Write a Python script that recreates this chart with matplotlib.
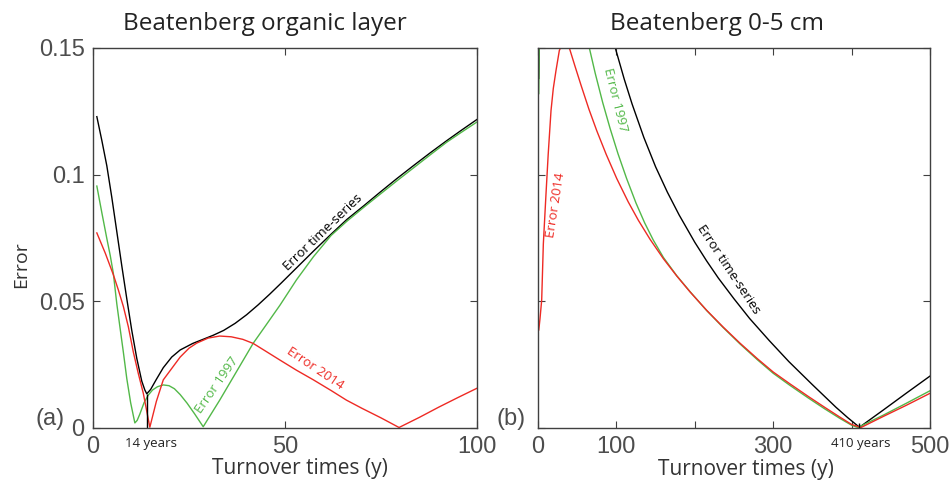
""" Beatenberg error curves vs turnover time, two panels
"""
import matplotlib
matplotlib.use("Agg")
import matplotlib.pyplot as plt

# ---- panel (a): organic layer ----
org_ts_x = [1.0, 2.3, 3.6, 4.9, 6.2, 7.5, 8.8, 10.1, 11.4, 12.7, 13.5, 14.0,
            15.0, 16.5, 18.3, 20.5, 22.7, 26, 29, 31.3, 34, 37, 40, 43, 46,
            49, 53, 57.4, 62, 66.1, 70.5, 74.7, 79, 83.4, 87.8, 92.1, 96, 100]
org_ts_y = [0.1229, 0.1135, 0.1035, 0.0910, 0.0775, 0.0640, 0.0510, 0.0385,
            0.0275, 0.0185, 0.0150, 0.0135, 0.0152, 0.0192, 0.0238, 0.0280,
            0.0308, 0.0334, 0.0352, 0.0366, 0.0385, 0.0413, 0.0447, 0.0486,
            0.0528, 0.0572, 0.0632, 0.0698, 0.0765, 0.0823, 0.0877, 0.0930,
            0.0983, 0.1035, 0.1086, 0.1134, 0.1176, 0.1218]

org_97_x = [1.0, 2.3, 3.6, 4.5, 5.3, 6.2, 7.0, 7.9, 8.8, 9.8, 10.9, 11.5, 12.2,
            13.3, 14.4, 15.5, 16.8, 18.3, 19.8, 21.2, 22.7, 24.5, 26.5, 28.7,
            33, 37, 41.7, 45, 48.7, 53, 57.4, 62, 66.1, 70.5, 74.7, 79, 83.4,
            87.8, 92.1, 96, 100]
org_97_y = [0.0955, 0.0850, 0.0748, 0.0680, 0.0610, 0.0490, 0.0400, 0.0300,
            0.0195, 0.0100, 0.0020, 0.0030, 0.0055, 0.0100, 0.0130, 0.0150,
            0.0163, 0.0170, 0.0167, 0.0155, 0.0132, 0.0098, 0.0055, 0.0005,
            0.0110, 0.0213, 0.0334, 0.0405, 0.0485, 0.0585, 0.0676, 0.0760,
            0.0816, 0.0871, 0.0922, 0.0974, 0.1026, 0.1078, 0.1128, 0.1168,
            0.1208]

org_14_x = [1.0, 3.2, 5.3, 6.6, 7.9, 9.2, 10.5, 11.8, 13.1, 14.8, 16.5, 18.3,
            20.5, 22.7, 25, 27, 30, 33, 36, 39, 41.7, 45, 48.7, 53, 57.4, 62,
            66, 70, 75, 79.7, 85, 90, 95, 100]
org_14_y = [0.0770, 0.0690, 0.0605, 0.0545, 0.0480, 0.0400, 0.0300, 0.0215,
            0.0137, 0.0003, 0.0105, 0.0190, 0.0235, 0.0280, 0.0315, 0.0335,
            0.0355, 0.0363, 0.0360, 0.0350, 0.0334, 0.0303, 0.0268, 0.0228,
            0.0190, 0.0148, 0.0110, 0.0078, 0.0040, 0.0002, 0.0042, 0.0082,
            0.0120, 0.0157]

# ---- panel (b): 0-5 cm ----
top_ts_x = [1, 2, 5, 15, 35, 60, 80, 98.6, 110, 120, 135, 150, 165, 180, 200,
            215, 230, 250, 270, 295, 320, 350, 380, 395, 410, 440, 470, 500]
top_ts_y = [0.138, 0.160, 0.200, 0.240, 0.240, 0.210, 0.180, 0.1500, 0.1377,
            0.1279, 0.1147, 0.1031, 0.0931, 0.0841, 0.0733, 0.0660, 0.0592,
            0.0510, 0.0432, 0.0345, 0.0262, 0.0171, 0.0082, 0.0041, 0.0003,
            0.0070, 0.0138, 0.0205]

top_97_x = [1, 1.5, 5, 20, 40, 55, 65.5, 73, 82.5, 92, 102, 113, 125, 136,
            147, 160, 177, 194, 215, 236, 257.6, 280, 300, 321, 345, 365, 385,
            400, 408, 440, 470, 500]
top_97_y = [0.132, 0.150, 0.185, 0.220, 0.195, 0.165, 0.1500, 0.1400, 0.1285,
            0.1182, 0.1083, 0.0985, 0.0888, 0.0810, 0.0742, 0.0673, 0.0601,
            0.0538, 0.0464, 0.0397, 0.0332, 0.0269, 0.0216, 0.0169, 0.0118,
            0.0077, 0.0038, 0.0011, 0.0002, 0.0050, 0.0098, 0.0147]

top_14_x = [1, 2.5, 4.7, 6.8, 10.2, 13, 16.6, 19.5, 22.9, 27.2, 33, 40, 47,
            55, 65, 75, 87, 100.4, 115, 128, 142.9, 160, 177, 194, 215, 236,
            257.6, 280, 300, 321, 345, 365, 385, 400, 412, 440, 470, 500]
top_14_y = [0.0387, 0.0430, 0.0505, 0.0726, 0.0924, 0.1080, 0.1253, 0.1340,
            0.1410, 0.1490, 0.1530, 0.1500, 0.1430, 0.1352, 0.1258, 0.1173,
            0.1080, 0.0985, 0.0893, 0.0820, 0.0745, 0.0668, 0.0600, 0.0537,
            0.0465, 0.0399, 0.0335, 0.0273, 0.0221, 0.0175, 0.0124, 0.0083,
            0.0043, 0.0014, 0.0002, 0.0045, 0.0090, 0.0137]

min_org = (14.0, 0.0135)
min_top = (410.0, 0.002)

RED = "#ee2a24"
GREEN = "#52b848"
AXC = "#404040"
TXT = "Open Sans"
TICKF = "Liberation Sans"

W, H = 952, 492
fig = plt.figure(figsize=(W / 100, H / 100), dpi=100)


def px(x, y):
    """ pixel position -> figure fraction """
    return x / W, 1 - y / H


def style_axes(ax):
    for s in ax.spines.values():
        s.set_color(AXC)
        s.set_linewidth(1.0)
    ax.tick_params(direction="in", length=5, width=0.8, color=AXC,
                   top=True, right=True, labelsize=17, labelcolor="#4d4d4d",
                   pad=6)
    for lab in ax.get_xticklabels() + ax.get_yticklabels():
        lab.set_fontfamily(TICKF)


ax1 = fig.add_axes([93 / W, 64 / H, 384 / W, 380 / H])
ax2 = fig.add_axes([538 / W, 64 / H, 392 / W, 380 / H])

# left panel
ax1.plot(org_ts_x, org_ts_y, color="k", lw=1.0)
ax1.plot(org_97_x, org_97_y, color=GREEN, lw=1.0)
ax1.plot(org_14_x, org_14_y, color=RED, lw=1.0)
ax1.vlines(min_org[0], 0, min_org[1], color="k", lw=1.0)
ax1.set_xlim(0, 100)
ax1.set_ylim(0, 0.15)
ax1.set_xticks([0, 50, 100])
ax1.set_xticklabels(["0", "50", "100"])
ax1.set_yticks([0, 0.05, 0.1, 0.15])
ax1.set_yticklabels(["0", "0.05", "0.1", "0.15"])
style_axes(ax1)

ax1.text(59.9, 0.0774, "Error time-series", rotation=44, fontsize=9.5,
         family=TXT, color="k", ha="center", va="center",
         rotation_mode="anchor")
ax1.text(32.2, 0.0170, "Error 1997", rotation=55, fontsize=9.5,
         family=TXT, color=GREEN, ha="center", va="center",
         rotation_mode="anchor")
ax1.text(57.8, 0.0237, "Error 2014", rotation=-34, fontsize=9.5,
         family=TXT, color=RED, ha="center", va="center",
         rotation_mode="anchor")

# right panel
ax2.plot(top_ts_x, top_ts_y, color="k", lw=1.0)
ax2.plot(top_97_x, top_97_y, color=GREEN, lw=1.0)
ax2.plot(top_14_x, top_14_y, color=RED, lw=1.0)
ax2.vlines(min_top[0], 0, min_top[1], color="k", lw=1.0)
ax2.set_xlim(0, 500)
ax2.set_ylim(0, 0.15)
ax2.set_xticks([0, 100, 200, 300, 400, 500])
ax2.set_xticklabels(["0", "100", "", "300", "", "500"])
ax2.set_yticks([0, 0.05, 0.1, 0.15])
ax2.set_yticklabels([])
style_axes(ax2)

ax2.text(22.9, 0.088, "Error 2014", rotation=81, fontsize=9.5,
         family=TXT, color=RED, ha="center", va="center",
         rotation_mode="anchor")
ax2.text(98.2, 0.1295, "Error 1997", rotation=-76, fontsize=9.5,
         family=TXT, color=GREEN, ha="center", va="center",
         rotation_mode="anchor")
ax2.text(243, 0.0625, "Error time-series", rotation=-56.5, fontsize=9.5,
         family=TXT, color="k", ha="center", va="center",
         rotation_mode="anchor")

# figure-level texts
fig.text(*px(265, 30), "Beatenberg organic layer", fontsize=17.5,
         family=TXT, color="#222222", ha="center", va="baseline")
fig.text(*px(717, 30), "Beatenberg 0-5 cm", fontsize=17.5, family=TXT,
         color="#222222", ha="center", va="baseline")
fig.text(*px(300, 474), "Turnover times (y)", fontsize=15, family=TXT,
         color="#333333", ha="center", va="baseline")
fig.text(*px(746, 475), "Turnover times (y)", fontsize=15, family=TXT,
         color="#333333", ha="center", va="baseline")
fig.text(*px(21, 265), "Error", fontsize=14, family=TXT, color="#333333",
         rotation=90, ha="center", va="center")
fig.text(*px(50, 425), "(a)", fontsize=17, family=TICKF, color="#4d4d4d",
         ha="center", va="baseline")
fig.text(*px(511, 425), "(b)", fontsize=17, family=TICKF, color="#4d4d4d",
         ha="center", va="baseline")
fig.text(*px(151, 447), "14 years", fontsize=9.5, family=TXT,
         color="#222222", ha="center", va="baseline")
fig.text(*px(861, 447), "410 years", fontsize=9.5, family=TXT,
         color="#222222", ha="center", va="baseline")

fig.savefig("out.png", dpi=100)
